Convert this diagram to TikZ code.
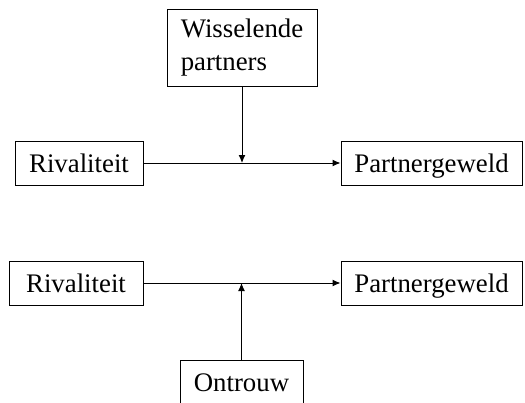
\documentclass[tikz,border=0pt]{standalone}
\usepackage{fontspec}
\setmainfont{Liberation Serif}
\usetikzlibrary{arrows.meta}

\begin{document}
\begin{tikzpicture}[x=1pt, y=-1pt, line width=1pt, >={Latex[length=8pt,width=7pt]},
    box/.style={draw, inner sep=0pt, minimum height=44pt, font=\fontsize{26.8}{33}\selectfont},
    oneline/.style={box, text height=18pt, text depth=0pt}]
        \def\wbox{181}

        \clip (0,0) rectangle (525,402);

        % top: moderator from above
        \node[oneline, minimum width=128pt] (riv1) at (79,163) {Rivaliteit};
        \node[oneline, minimum width=\wbox pt] (par1) at (431.5,163) {Partnergeweld};
        \node[box, minimum width=150pt, minimum height=77pt, align=left] (wis) at (242,48) {Wisselende\\partners};
        \coordinate (m1) at (wis.south |- riv1.east);

        \draw[->] (riv1) -- (par1);
        \draw[->] (wis) -- (m1);

        % bottom: moderator from below
        \node[oneline, minimum width=134pt] (riv2) at (76,283) {Rivaliteit};
        \node[oneline, minimum width=\wbox pt] (par2) at (431.5,283) {Partnergeweld};
        \node[oneline, minimum width=123pt] (ont) at (241.5,382) {Ontrouw};
        \coordinate (m2) at (ont.north |- riv2.east);

        \draw[->] (riv2) -- (par2);
        \draw[->] (ont) -- (m2);
    \end{tikzpicture}
\end{document}
